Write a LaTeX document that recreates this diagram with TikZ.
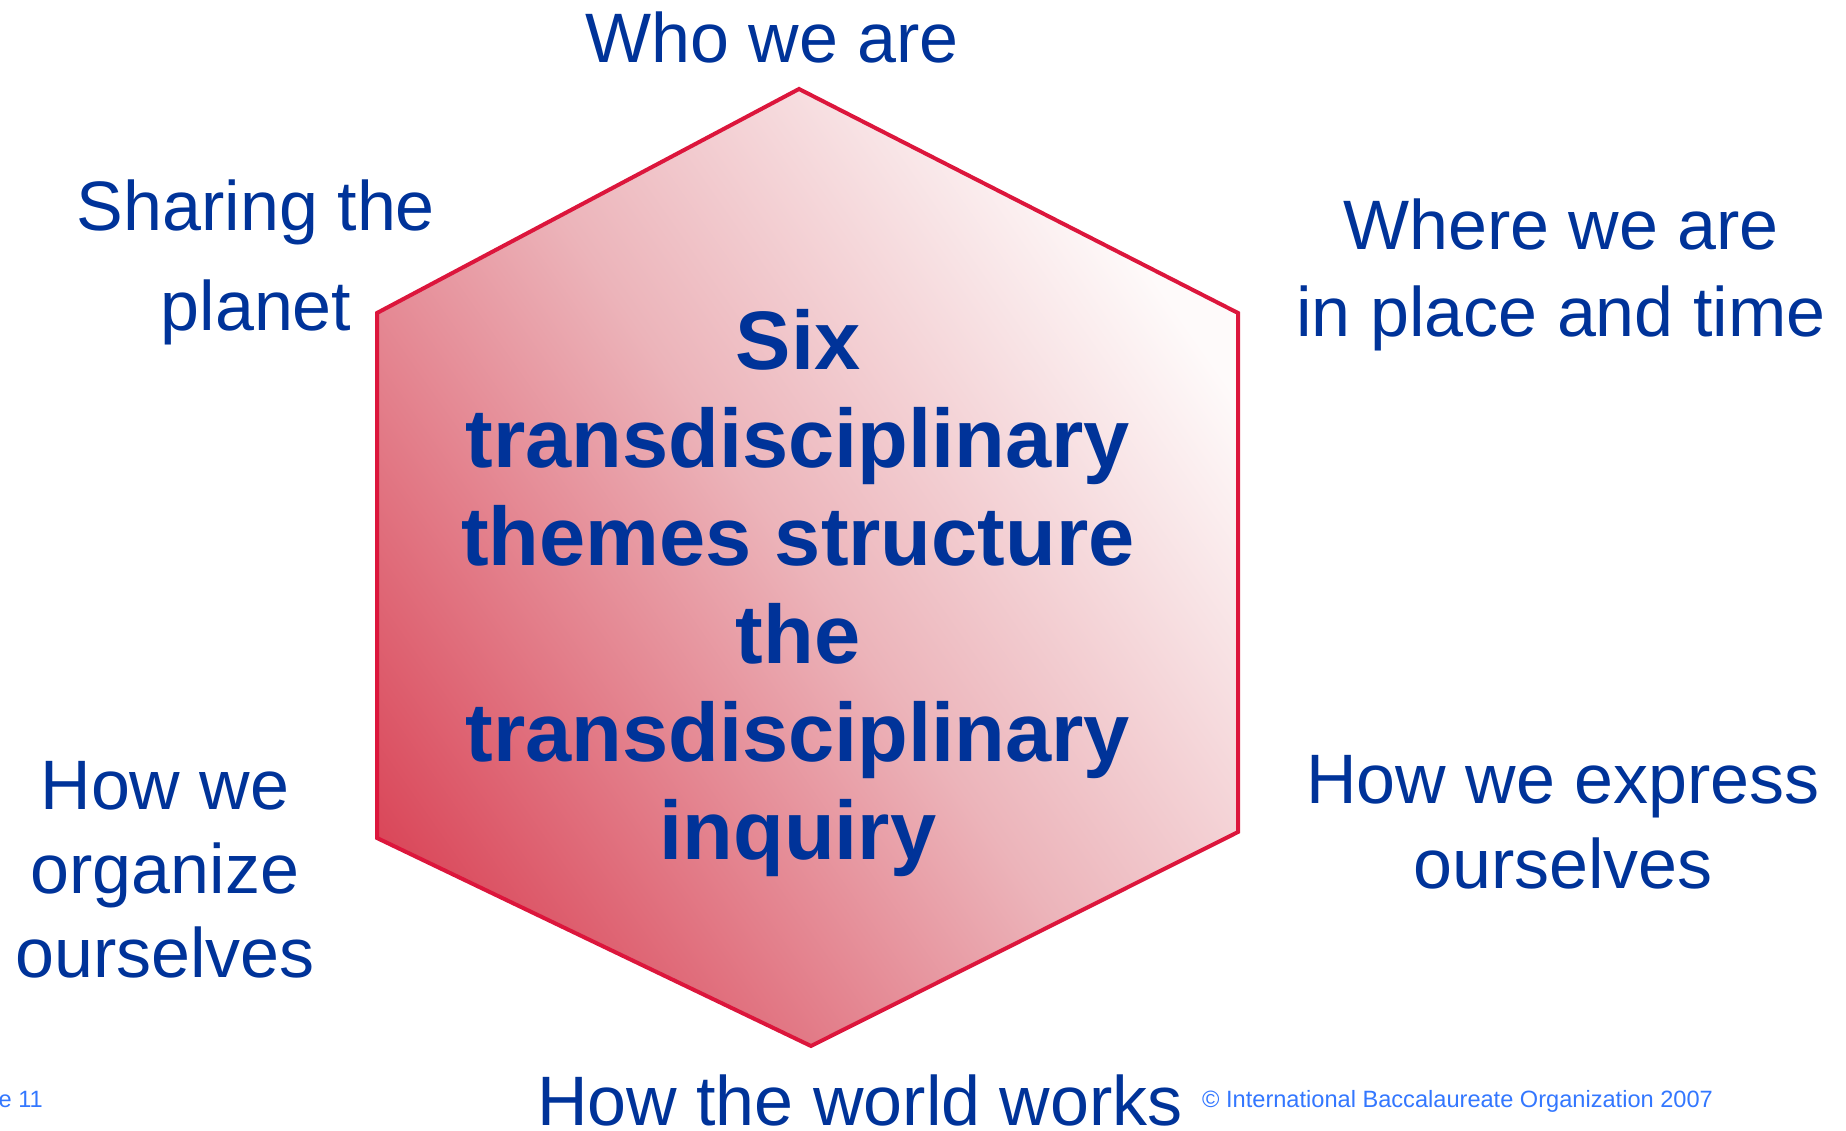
\documentclass[tikz,border=0pt]{standalone}
\usepackage{fontspec}
\setmainfont{Liberation Sans}
\usetikzlibrary{positioning}
\definecolor{themeBlue}{RGB}{0, 51, 153}
\definecolor{hexRed}{RGB}{220, 22, 60}
\definecolor{hexDark}{RGB}{215, 56, 76}
\definecolor{hexMid}{RGB}{236, 180, 186}
\definecolor{hexLight}{RGB}{254, 250, 250}
\definecolor{footBlue}{RGB}{51, 119, 255}
% softer ramp than the plain axis shading
\pgfdeclareverticalshading{hexFade}{100bp}{
    color(0bp)=(hexDark); color(18bp)=(hexDark);
    color(50bp)=(hexMid);
    color(75bp)=(hexLight); color(100bp)=(hexLight)}

\begin{document}
\begin{tikzpicture}[
    x=1pt, y=1pt,
    % --- Text Styles ---
    theme/.style={
        text=themeBlue,
        align=center,
        inner sep=0pt,
        font=\fontsize{70}{85}\selectfont
    },
    hub/.style={
        text=themeBlue,
        align=center,
        inner sep=0pt,
        font=\bfseries\fontsize{83}{98}\selectfont
    },
    footer/.style={text=footBlue, inner sep=0pt, font=\fontsize{23.6}{28}\selectfont},
    % --- Hexagon Look ---
    hexShape/.style={
        draw=hexRed,
        line width=4pt,
        line join=miter,
        shade,
        shading=hexFade,
        shading angle=-55
    }
]

    \useasboundingbox (0,0) rectangle (1846,1130);

    % --- Hexagon corners ---
    \coordinate (hexTop) at (799,1041);
    \coordinate (hexUR)  at (1238,817);
    \coordinate (hexLR)  at (1238,298);
    \coordinate (hexBot) at (811,84);
    \coordinate (hexLL)  at (377,292);
    \coordinate (hexUL)  at (377,817);

    \path [hexShape] (hexTop) -- (hexUR) -- (hexLR) -- (hexBot) -- (hexLL) -- (hexUL) -- cycle;

    % --- Centre text ---
    \node (hub) [hub] at (798,537) {
        Six\\
        transdisciplinary\\
        themes structure\\
        the\\
        transdisciplinary\\
        inquiry
    };

    % --- The six themes (clockwise from top) ---
    \node (who) [theme, anchor=base] at (772,1067) {Who we are};
    \node (where) [theme, font=\fontsize{70}{87}\selectfont] at (1561,855) {
        Where we are\\ 
        in place and time
    };
    \node (express) [theme] at (1563,308) {
        How we express\\ 
        ourselves
    };
    \node (world) [theme, anchor=base] at (860,5) {How the world works};
    \node (organize) [theme, font=\fontsize{70}{84}\selectfont] at (165,260) {
        How we\\ 
        organize\\ 
        ourselves
    };
    \node (planet) [theme, font=\fontsize{70}{100}\selectfont] at (256,868) {
        Sharing the\\ 
        planet
    };

    % --- Footer ---
    \node (slide) [footer, anchor=base east] at (43,23) {e 11};
    \node (copy) [footer, anchor=base west] at (1202,23) {© International Baccalaureate Organization 2007};

\end{tikzpicture}
\end{document}
